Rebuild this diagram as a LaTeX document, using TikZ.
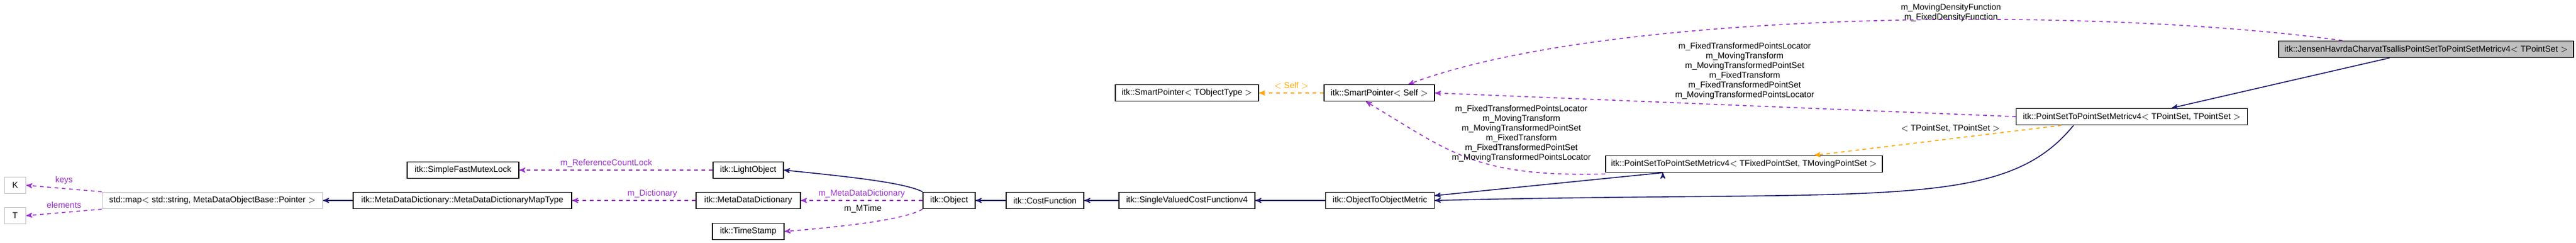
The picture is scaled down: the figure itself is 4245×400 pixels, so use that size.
\documentclass[tikz,border=0pt]{standalone}
\usepackage{fontspec}
\setmainfont{Liberation Sans}
\usetikzlibrary{arrows}
\definecolor{edgepurple}{HTML}{9A32CD}
\definecolor{edgenavy}{HTML}{191970}
\definecolor{edgeorange}{HTML}{FFA500}
\begin{document}
\begin{tikzpicture}[x=0.5pt,y=-0.5pt,>=stealth',
        font=\fontsize{7}{8}\selectfont,
        class node/.style={draw,thick,minimum height=13.5pt,inner sep=1pt},
        ext node/.style={class node,draw=black!25},
        main class/.style={class node,fill=black!25},
        inherit/.style={->,thick,edgenavy},
        member/.style={->,thick,dashed,edgepurple},
        tmpl/.style={->,thick,dashed,edgeorange},
        lbl/.style={align=center,inner sep=0pt}]
        \useasboundingbox (0,0) rectangle (4245,400);
        \node[ext node, minimum width=17.5pt] (K) at (25,305) {K};
        \node[ext node, minimum width=17.5pt] (T) at (25,355) {T};
        \node[ext node, minimum width=181.5pt] (map) at (350,330) {std::map$<$ std::string, MetaDataObjectBase::Pointer $>$};
        \node[class node, minimum width=180pt] (maptype) at (762,330) {itk::MetaDataDictionary::MetaDataDictionaryMapType};
        \node[class node, minimum width=92pt] (lock) at (763,280) {itk::SimpleFastMutexLock};
        \node[class node, minimum width=58pt] (light) at (1233,280) {itk::LightObject};
        \node[class node, minimum width=86pt] (dict) at (1233,330) {itk::MetaDataDictionary};
        \node[class node, minimum width=59pt] (stamp) at (1233,381) {itk::TimeStamp};
        \node[class node, minimum width=43pt] (obj) at (1564,330) {itk::Object};
        \node[class node, minimum width=64pt] (cost) at (1722,330) {itk::CostFunction};
        \node[class node, minimum width=112pt] (svcost) at (1956,330) {itk::SingleValuedCostFunctionv4};
        \node[class node, minimum width=89.5pt] (o2o) at (2274,330) {itk::ObjectToObjectMetric};
        \node[class node, minimum width=118pt] (sptype) at (1956,153) {itk::SmartPointer$<$ TObjectType $>$};
        \node[class node, minimum width=91pt] (spself) at (2273,153) {itk::SmartPointer$<$ Self $>$};
        \node[class node, minimum width=228pt] (psfm) at (2874,270) {itk::PointSetToPointSetMetricv4$<$ TFixedPointSet, TMovingPointSet $>$};
        \node[class node, minimum width=190.5pt] (psps) at (3513,192) {itk::PointSetToPointSetMetricv4$<$ TPointSet, TPointSet $>$};
        \node[main class, minimum width=243pt] (jensen) at (3998,81) {itk::JensenHavrdaCharvatTsallisPointSetToPointSetMetricv4$<$ TPointSet $>$};
        % std::map members
        \draw[member] (map.north west) -- (K.east) node[lbl,pos=0.5,above=3pt] {keys};
        \draw[member] (map.south west) -- (T.east) node[lbl,pos=0.5,above=3pt] {elements};
        \draw[inherit] (maptype) -- (map);
        \draw[member] (light) -- (lock) node[lbl,pos=0.55,above=2pt] {m\_ReferenceCountLock};
        \draw[member] (dict) -- (maptype) node[lbl,pos=0.35,above=2pt] {m\_Dictionary};
        % itk::Object
        \draw[inherit] (obj.north west) .. controls (1490,300) and (1390,290) .. (light.east);
        \draw[member] (obj) -- (dict) node[lbl,pos=0.5,above=2pt] {m\_MetaDataDictionary};
        \draw[member] (obj.south west) .. controls (1490,362) and (1390,373) .. (stamp.east);
        \node[lbl] (mtime) at (1422,344) {m\_MTime};
        \draw[inherit] (cost) -- (obj);
        \draw[inherit] (svcost) -- (cost);
        \draw[inherit] (o2o) -- (svcost);
        % smart pointers
        \draw[tmpl] (spself) -- (sptype) node[lbl,pos=0.5,above=3pt] {$<$ Self $>$};
        \draw[inherit] (psfm.south west) ++(95,0) coordinate (psfmfoot) ;
        \draw[inherit] (psfmfoot) -- ([yshift=4pt]o2o.east);
        \draw[inherit] ([xshift=-48pt]psps.south) .. controls (3300,350) and (3100,312) .. (o2o.east);
        \draw[tmpl] ([xshift=-58pt]psps.south) -- ([xshift=58pt]psfm.north);
        \node[lbl] (tplabel) at (3214,211) {$<$ TPointSet, TPointSet $>$};
        \draw[member] (psps.west) -- (spself.east);
        \node[lbl] (pspslabel) at (2875,117) {m\_FixedTransformedPointsLocator\\m\_MovingTransform\\m\_MovingTransformedPointSet\\m\_FixedTransform\\m\_FixedTransformedPointSet\\m\_MovingTransformedPointsLocator};
        \draw[member] ([yshift=-1pt]psfm.south west) .. controls (2430,292) and (2390,250) .. ([xshift=-11pt]spself.south);
        \node[lbl] (psfmlabel) at (2507,220) {m\_FixedTransformedPointsLocator\\m\_MovingTransform\\m\_MovingTransformedPointSet\\m\_FixedTransform\\m\_FixedTransformedPointSet\\m\_MovingTransformedPointsLocator};
        % top class
        \draw[inherit] ([xshift=-30pt]jensen.south) -- ([xshift=33pt]psps.north);
        \draw[member] ([xshift=-69pt]jensen.north) .. controls (3450,10) and (2650,15) .. ([xshift=24pt]spself.north);
        \node[lbl] (densitylabel) at (3215,21) {m\_MovingDensityFunction\\m\_FixedDensityFunction};
\end{tikzpicture}
\end{document}
